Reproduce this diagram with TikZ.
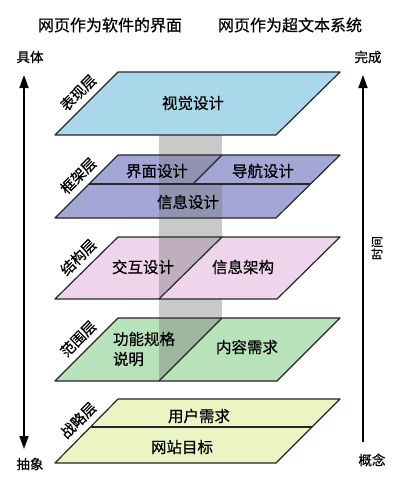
\documentclass[tikz,border=0pt]{standalone}
\usepackage{fontspec}
\setmainfont{Noto Sans CJK SC}[FakeBold=0.6]
\usetikzlibrary{arrows.meta,calc}
\definecolor{cpres}{HTML}{A8D8EA}
\definecolor{cframe}{HTML}{A4A7D6}
\definecolor{cstruct}{HTML}{EFD5EB}
\definecolor{cscope}{HTML}{B8E2B9}
\definecolor{cstrat}{HTML}{EBF5C4}
\begin{document}
\begin{tikzpicture}[x=1pt,y=-1pt,
  layerline/.style={draw=black!85, line width=1.2pt, line join=round},
  bandfill/.style={fill=black!55, fill opacity=0.38, draw=none},
  ltext/.style={font=\fontsize{15.5}{20}\selectfont, inner sep=0pt},
  llabel/.style={font=\fontsize{14.5}{16}\selectfont, rotate=45, inner sep=0pt},
  titletext/.style={font=\fontsize{16}{18}\selectfont, inner sep=0pt},
  sidetext/.style={font=\fontsize{13.5}{15}\selectfont, inner sep=0pt},
  axisline/.style={line width=1.8pt, {Triangle[width=9pt,length=13pt]}-{Triangle[width=9pt,length=13pt]}},
  axisup/.style={line width=1.8pt, -{Triangle[width=9pt,length=13pt]}}
]
\fill[white] (0,0) rectangle (400,485);
\useasboundingbox (0,0) rectangle (400,485);

% titles
\node[titletext] (t1) at (110,25) {网页作为软件的界面};
\node[titletext] (t2) at (290,25) {网页作为超文本系统};

% layer fills
\fill[cpres]   (55,135) -- (118,72) -- (340,72) -- (276,135) -- cycle;
\fill[cframe]  (55,218) -- (118,155) -- (340,155) -- (276,218) -- cycle;
\fill[cstruct] (55,299) -- (118,237) -- (340,237) -- (277,299) -- cycle;
\fill[cscope]  (55,381) -- (118,318) -- (340,318) -- (277,381) -- cycle;
\fill[cstrat]  (55,463) -- (118,399) -- (340,399) -- (276,463) -- cycle;

% gray band
\fill[bandfill] (159,135) rectangle (222,155);
\fill[bandfill] (159,155) -- (222,155) -- (193,184) -- (222,184) -- (222,218) -- (159,218) -- cycle;
\fill[bandfill] (159,218) rectangle (222,237);
\fill[bandfill] (159,237) -- (222,237) -- (159,299) -- cycle;
\fill[bandfill] (159,299) rectangle (222,318);
\fill[bandfill] (159,318) -- (222,318) -- (159,381) -- cycle;

% layer outlines and dividers
\draw[layerline] (55,135) -- (118,72) -- (340,72) -- (276,135) -- cycle;
\draw[layerline] (55,218) -- (118,155) -- (340,155) -- (276,218) -- cycle;
\draw[layerline] (89,184) -- (310,184);
\draw[layerline] (222,155) -- (193,184);
\draw[layerline] (55,299) -- (118,237) -- (340,237) -- (277,299) -- cycle;
\draw[layerline] (222,237) -- (159,299);
\draw[layerline] (55,381) -- (118,318) -- (340,318) -- (277,381) -- cycle;
\draw[layerline] (222,318) -- (159,381);
\draw[layerline] (55,463) -- (118,399) -- (340,399) -- (276,463) -- cycle;
\draw[layerline] (91,427) -- (312,427);

% layer texts
\node[ltext] (vis) at (193,103) {视觉设计};
\node[ltext] (ui) at (157,171) {界面设计};
\node[ltext] (nav) at (263,171) {导航设计};
\node[ltext] (info) at (188,202) {信息设计};
\node[ltext] (ixd) at (143,267) {交互设计};
\node[ltext] (ia) at (243,267) {信息架构};
\node[ltext, align=left] (spec) at (144,349) {功能规格\\说明};
\node[ltext] (cont) at (247,347) {内容需求};
\node[ltext] (user) at (199,416) {用户需求};
\node[ltext] (goal) at (182,447) {网站目标};

% layer labels
\node[llabel] (l1) at ($(55,135)!0.52!(118,72)+(-9.5,-9.5)$) {表现层};
\node[llabel] (l2) at ($(55,218)!0.52!(118,155)+(-9.5,-9.5)$) {框架层};
\node[llabel] (l3) at ($(55,299)!0.52!(118,237)+(-9.5,-9.5)$) {结构层};
\node[llabel] (l4) at ($(55,381)!0.52!(118,318)+(-9.5,-9.5)$) {范围层};
\node[llabel] (l5) at ($(55,463)!0.52!(118,399)+(-9.5,-9.5)$) {战略层};

% side axes
\node[sidetext] (conc) at (30,57) {具体};
\node[sidetext] (abst) at (30,464) {抽象};
\node[sidetext] (done) at (368,57) {完成};
\node[sidetext] (idea) at (372,460) {概念};
\node[font=\fontsize{12}{14}\selectfont, inner sep=0pt, rotate=90] (time) at (377,248) {时间};
\coordinate (la) at (24,75);
\coordinate (lb) at (24,449);
\coordinate (ra) at (363,75);
\coordinate (rb) at (363,442);
\draw[axisline] (lb) -- (la);
\draw[axisup] (rb) -- (ra);
\end{tikzpicture}
\end{document}
